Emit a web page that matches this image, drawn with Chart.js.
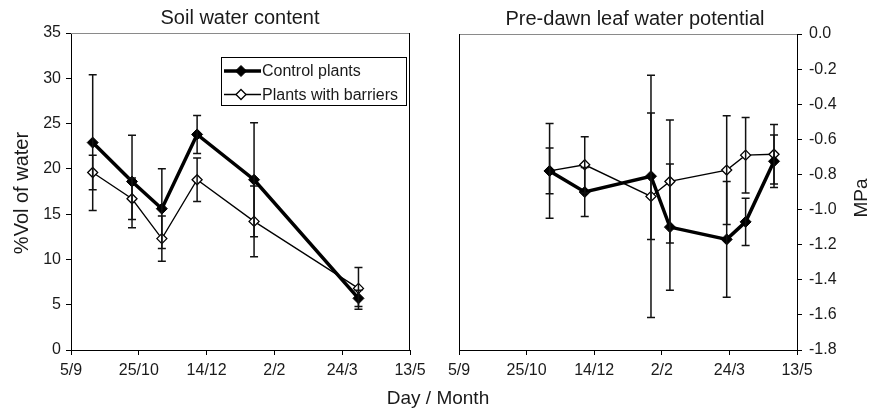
<!DOCTYPE html>
<html><head><meta charset="utf-8">
<script src="https://cdn.jsdelivr.net/npm/chart.js@4/dist/chart.umd.min.js"></script>
<style>
html,body{margin:0;padding:0;background:#fff;}
#wrap{position:relative;width:876px;height:412px;overflow:hidden;background:#fff;}
canvas{position:absolute;top:0;}
#c1{left:0}
#c2{left:438px}
#xlab{position:absolute;left:0;width:876px;top:388px;text-align:center;font:19px/19px "Liberation Sans",Arial,sans-serif;color:#1a1a1a;}
</style></head><body>
<div id="wrap">
<canvas id="c1" width="438" height="412"></canvas>
<canvas id="c2" width="438" height="412"></canvas>
<div id="xlab">Day / Month</div>
</div>
<script>
// ---- data ----
const dateTickLabels = ['5/9', '25/10', '14/12', '2/2', '24/3', '13/5'];
const seriesNames = ['Control plants', 'Plants with barriers'];

const soilDays = [16, 45, 67, 93, 135, 212];
const soilControl = [22.9, 18.6, 15.6, 23.8, 18.8, 5.7];
const soilControlErr = [7.5, 5.1, 4.4, 2.1, 6.3, 0.9];
const soilBarrier = [19.6, 16.7, 12.3, 18.8, 14.2, 6.8];
const soilBarrierErr = [1.9, 2.3, 2.5, 2.4, 3.9, 2.3];

const leafDays = [67, 93, 142, 156, 198, 212, 233];
const leafControl = [-0.78, -0.90, -0.81, -1.10, -1.17, -1.07, -0.725];
const leafControlErr = [0.27, 0.14, 0.36, 0.36, 0.33, 0.135, 0.15];
const leafBarrier = [-0.78, -0.745, -0.925, -0.84, -0.775, -0.69, -0.685];
const leafBarrierErr = [0.13, 0.16, 0.69, 0.35, 0.31, 0.215, 0.17];

// ---- styling ----
const FONT = '"Liberation Sans", Arial, Helvetica, sans-serif';
const INK = '#1a1a1a';
Chart.defaults.font.family = FONT;
Chart.defaults.color = INK;

function pts(xs, ys) { return xs.map((x, i) => ({ x: x, y: ys[i] })); }

function controlDs(xs, ys, errs) {
  return { label: seriesNames[0], data: pts(xs, ys), errors: errs,
    borderColor: '#000', borderWidth: 3.5, backgroundColor: '#000',
    pointStyle: 'rectRot', pointRadius: 5.5, pointBackgroundColor: '#000',
    pointBorderColor: '#000', pointBorderWidth: 1, tension: 0 };
}
function barrierDs(xs, ys, errs) {
  return { label: seriesNames[1], data: pts(xs, ys), errors: errs,
    borderColor: '#000', borderWidth: 1.3, backgroundColor: '#fff',
    pointStyle: 'rectRot', pointRadius: 5, pointBackgroundColor: '#fff',
    pointBorderColor: '#000', pointBorderWidth: 1.3, tension: 0 };
}

const errorBars = {
  id: 'errorBars',
  afterDatasetsDraw(chart) {
    const ctx = chart.ctx, xs = chart.scales.x, ys = chart.scales.y;
    ctx.save();
    ctx.strokeStyle = '#111';
    ctx.lineWidth = 1.5;
    chart.data.datasets.forEach(ds => {
      ds.data.forEach((p, j) => {
        const e = ds.errors[j];
        const px = xs.getPixelForValue(p.x);
        const t = ys.getPixelForValue(p.y + e), b = ys.getPixelForValue(p.y - e);
        ctx.beginPath();
        ctx.moveTo(px, t); ctx.lineTo(px, b);
        ctx.moveTo(px - 4, t); ctx.lineTo(px + 4, t);
        ctx.moveTo(px - 4, b); ctx.lineTo(px + 4, b);
        ctx.stroke();
      });
    });
    ctx.restore();
  }
};

const frame = {
  id: 'frame',
  afterDraw(chart, args, o) {
    const a = chart.chartArea, ctx = chart.ctx;
    ctx.save();
    ctx.lineWidth = 1;
    ctx.strokeStyle = '#8a8a8a';
    ctx.beginPath(); ctx.moveTo(a.left, a.top + 0.5); ctx.lineTo(a.right, a.top + 0.5); ctx.stroke();
    ctx.strokeStyle = '#000';
    ctx.beginPath();
    if (o.side === 'left') { ctx.moveTo(a.left + 0.5, a.top); ctx.lineTo(a.left + 0.5, a.bottom); }
    else { ctx.moveTo(a.right - 0.5, a.top); ctx.lineTo(a.right - 0.5, a.bottom); }
    ctx.stroke();
    ctx.restore();
  }
};

const panelText = {
  id: 'panelText',
  afterDraw(chart, args, o) {
    const ctx = chart.ctx;
    ctx.save();
    ctx.fillStyle = INK;
    ctx.textBaseline = 'alphabetic';
    ctx.textAlign = 'center';
    ctx.font = '20px ' + FONT;
    ctx.fillText(o.title, o.titleX, o.titleY);
    ctx.translate(o.yTitleX, o.yTitleY);
    ctx.rotate(-Math.PI / 2);
    ctx.font = o.yTitleSize + 'px ' + FONT;
    ctx.fillText(o.yTitle, 0, 0);
    ctx.restore();
  }
};

const boxLegend = {
  id: 'boxLegend',
  afterDraw(chart, args, o) {
    if (!o.show) return;
    const ctx = chart.ctx;
    ctx.save();
    ctx.strokeStyle = '#000';
    ctx.lineWidth = 1;
    ctx.strokeRect(o.x + 0.5, o.y + 0.5, o.w, o.h);
    ctx.font = '16px ' + FONT;
    ctx.textBaseline = 'middle';
    ctx.textAlign = 'left';
    chart.data.datasets.forEach((ds, i) => {
      const cy = o.rowY[i];
      ctx.strokeStyle = '#000';
      ctx.lineWidth = ds.borderWidth;
      ctx.beginPath(); ctx.moveTo(o.x + 3, cy); ctx.lineTo(o.x + 40, cy); ctx.stroke();
      ctx.fillStyle = ds.pointBackgroundColor;
      ctx.strokeStyle = '#000';
      ctx.lineWidth = ds.pointBorderWidth;
      ctx.beginPath();
      const r = ds.pointRadius;
      ctx.moveTo(o.x + 20, cy - r); ctx.lineTo(o.x + 20 + r, cy);
      ctx.lineTo(o.x + 20, cy + r); ctx.lineTo(o.x + 20 - r, cy); ctx.closePath();
      ctx.fill(); ctx.stroke();
      ctx.fillStyle = INK;
      ctx.fillText(ds.label, o.x + 41, cy + 1);
    });
    ctx.restore();
  }
};

function xScale() {
  return {
    type: 'linear', min: 0, max: 250,
    ticks: { stepSize: 50, autoSkip: false, maxRotation: 0, padding: 6,
      font: { size: 16 }, color: INK,
      callback: v => dateTickLabels[Math.round(v / 50)] },
    grid: { drawOnChartArea: false, drawTicks: true, tickLength: 5, color: '#000' },
    border: { color: '#000', width: 1 },
    afterFit: s => { s.height = 62; }
  };
}

new Chart(document.getElementById('c1'), {
  type: 'line',
  data: { datasets: [controlDs(soilDays, soilControl, soilControlErr),
                     barrierDs(soilDays, soilBarrier, soilBarrierErr)] },
  options: {
    responsive: false, animation: false, devicePixelRatio: 1,
    layout: { padding: { top: 33, right: 28, left: 0, bottom: 0 } },
    scales: {
      x: xScale(),
      y: { min: 0, max: 35,
        ticks: { stepSize: 5, padding: 5, font: { size: 16 }, color: INK },
        grid: { drawOnChartArea: false, drawTicks: true, tickLength: 5, color: '#000' },
        border: { color: '#000', width: 1 },
        afterFit: s => { s.width = 71; } }
    },
    plugins: {
      legend: { display: false }, tooltip: { enabled: false },
      frame: { side: 'right' },
      panelText: { title: 'Soil water content', titleX: 240, titleY: 24,
        yTitle: '%Vol of water', yTitleX: 28, yTitleY: 193, yTitleSize: 20 },
      boxLegend: { show: true, x: 221, y: 57, w: 185, h: 48, rowY: [71, 94.5] }
    }
  },
  plugins: [errorBars, frame, panelText, boxLegend]
});

new Chart(document.getElementById('c2'), {
  type: 'line',
  data: { datasets: [controlDs(leafDays, leafControl, leafControlErr),
                     barrierDs(leafDays, leafBarrier, leafBarrierErr)] },
  options: {
    responsive: false, animation: false, devicePixelRatio: 1,
    layout: { padding: { top: 34, right: 0, left: 21, bottom: 0 } },
    scales: {
      x: xScale(),
      y: { position: 'right', min: -1.8, max: 0,
        ticks: { stepSize: 0.2, padding: 7, font: { size: 16 }, color: INK,
          callback: v => (Math.abs(v) < 1e-9 ? 0 : v).toFixed(1) },
        grid: { drawOnChartArea: false, drawTicks: true, tickLength: 5, color: '#000' },
        border: { color: '#000', width: 1 },
        afterFit: s => { s.width = 79; } }
    },
    plugins: {
      legend: { display: false }, tooltip: { enabled: false },
      frame: { side: 'left' },
      panelText: { title: 'Pre-dawn leaf water potential', titleX: 197, titleY: 25,
        yTitle: 'MPa', yTitleX: 429, yTitleY: 198, yTitleSize: 19 },
      boxLegend: { show: false }
    }
  },
  plugins: [errorBars, frame, panelText, boxLegend]
});
</script>
</body></html>
